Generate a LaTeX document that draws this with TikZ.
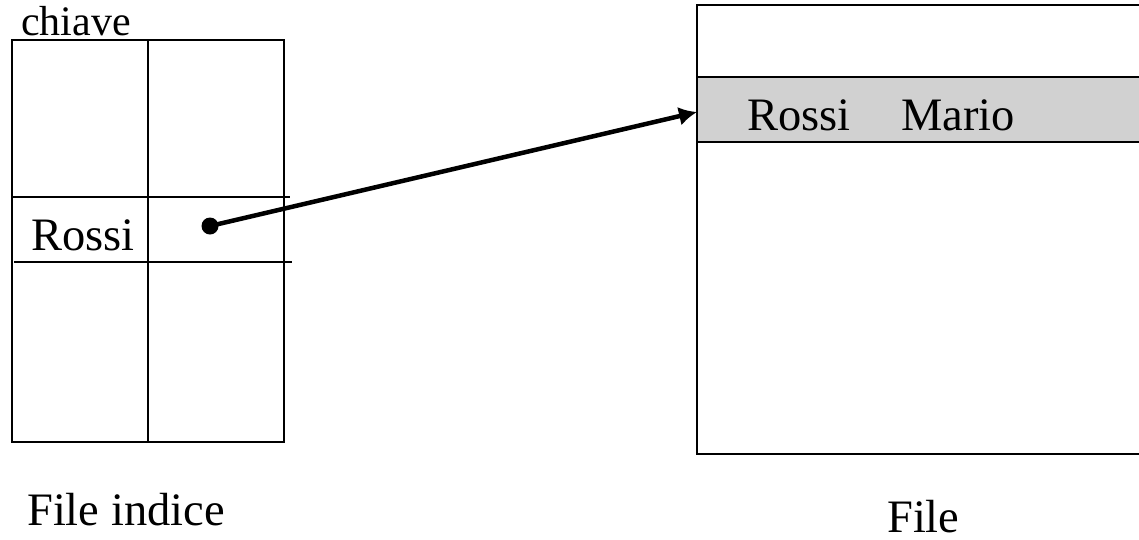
\documentclass[tikz,border=0pt]{standalone}
\usepackage{fontspec}
\setmainfont{Liberation Serif}
\usetikzlibrary{arrows.meta}

\tikzset{
  rule/.style={line width=2.2pt, line cap=rect},
  label46/.style={inner sep=0pt, anchor=base west, font=\fontsize{46.5}{52}\selectfont},
  label42/.style={inner sep=0pt, anchor=base west, font=\fontsize{42}{48}\selectfont},
  pointer/.style={line width=4.5pt, -{Latex[length=18pt,width=19pt]}},
  recordband/.style={fill=black!18, inner sep=0pt, anchor=north west,
                     minimum width=442pt, minimum height=65pt}
}

\begin{document}
\begin{tikzpicture}[x=1pt, y=-1pt]
  \useasboundingbox (0,0) rectangle (1139,539);

  % ---- index file: two columns, one highlighted row ----
  \coordinate (ixNW) at (12,40);
  \coordinate (ixSE) at (284,442);
  \draw[rule] (ixNW) rectangle (ixSE);
  \draw[rule] (148,40) -- (148,442);
  \draw[rule] (12,197) -- (289,197);
  \draw[rule] (15,262) -- (291,262);

  \node[label42] (chiave) at (21,35) {chiave};
  \node[label46] (keyRossi) at (31,250.5) {Rossi};
  \node[circle, fill=black, inner sep=0pt, minimum size=17pt] (ptr) at (210,226) {};
  \node[label46] (lblIndex) at (27,525) {File indice};

  % ---- data file with the addressed record ----
  \node[recordband] (record) at (697,77) {};
  \draw[rule] (1139,77) -- (697,77);
  \draw[rule] (697,142) -- (1139,142);
  \draw[rule] (1139,5) -- (697,5) -- (697,454) -- (1139,454);
  \node[label46] (recSurname) at (747,130) {Rossi};
  \node[label46] (recName) at (901,130) {Mario};
  \node[label46, text depth=0pt] (lblFile) at (887,532) {File};

  % ---- pointer from the index entry to the record ----
  \coordinate (target) at (697,112);
  \draw[pointer] (ptr.center) -- (target);
\end{tikzpicture}
\end{document}
